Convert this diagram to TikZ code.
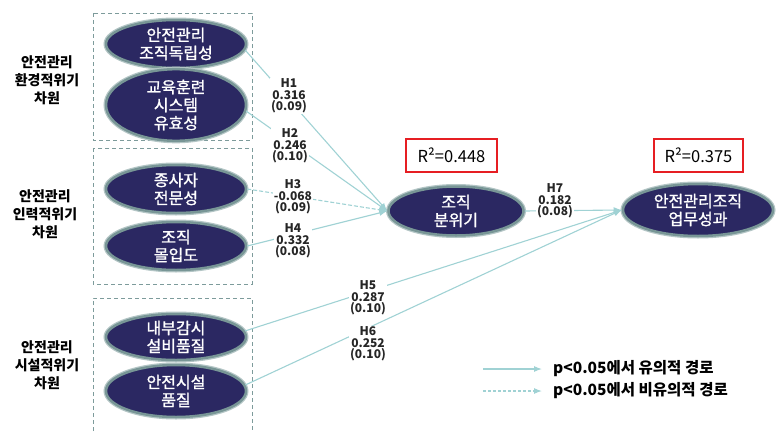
\documentclass[tikz,border=0pt]{standalone}
\usepackage{fontspec}
\setmainfont{Noto Sans CJK KR}
\newfontfamily\medfont{Noto Sans CJK KR}[FakeBold=1.2]
\usetikzlibrary{shapes.geometric,arrows.meta}
\definecolor{navy}{RGB}{43,40,98}
\definecolor{rim}{RGB}{120,150,150}
\definecolor{rimlight}{RGB}{180,198,198}
\definecolor{edgec}{RGB}{160,210,212}
\definecolor{boxc}{RGB}{125,155,155}
\definecolor{redc}{RGB}{230,30,35}
\begin{document}
\begin{tikzpicture}[x=1pt,y=-1pt,
 latent/.style={ellipse, fill=navy, draw=rim, line width=2.5pt,
   preaction={draw=rimlight, line width=5pt},
   text=white, align=center, font=\medfont\fontsize{16}{18}\selectfont, inner sep=0pt},
 grp/.style={draw=boxc, dash pattern=on 4pt off 3pt, line width=0.7pt},
 dimlab/.style={align=center, font=\bfseries\fontsize{14}{18}\selectfont},
 pathline/.style={draw=edgec, line width=1.1pt, -{Latex[length=8pt,width=6pt]}},
 est/.style={fill=white, align=center, inner sep=1pt, font=\bfseries\fontsize{12}{11.5}\selectfont, text=black!85},
 rsq/.style={draw=redc, line width=2pt, minimum height=33pt, inner sep=0pt, font=\fontsize{16.5}{16}\selectfont},
 legtxt/.style={anchor=west, inner sep=0pt, font=\bfseries\fontsize{15.5}{15}\selectfont}]

\useasboundingbox (0,0) rectangle (776,431);

% group boxes
\draw[grp] (93,13) rectangle (252,140);
\draw[grp] (93,148) rectangle (252,284);
\draw[grp] (93,445) -- (93,298) -- (252,298) -- (252,445);

% dimension labels
\node[dimlab] (d1) at (47,80) {안전관리\\환경적위기\\차원};
\node[dimlab] (d2) at (45,214) {안전관리\\인력적위기\\차원};
\node[dimlab] (d3) at (47,365) {안전관리\\시설적위기\\차원};

% latent variables
\node[latent, minimum width=140pt, minimum height=48pt] (e1) at (176,44) {안전관리\\조직독립성};
\node[latent, minimum width=140pt, minimum height=51pt] (e2) at (176,105) {교육훈련\\시스템\\유효성};
\node[latent, minimum width=140pt, minimum height=48pt] (e3) at (176,189) {종사자\\전문성};
\node[latent, minimum width=140pt, minimum height=48pt] (e4) at (176,246) {조직\\몰입도};
\node[latent, minimum width=140pt, minimum height=46pt] (e5) at (176,337) {내부감시\\설비품질};
\node[latent, minimum width=140pt, minimum height=52pt] (e6) at (176,391) {안전시설\\품질};
\node[latent, minimum width=135pt, minimum height=49pt] (clim) at (456,211) {조직\\분위기};
\node[latent, minimum width=150pt, minimum height=52pt] (perf) at (698,210) {안전관리조직\\업무성과};

% R squared boxes
\node[rsq, minimum width=91pt] (r1) at (451.5,155.5) {R²=0.448};
\node[rsq, minimum width=89pt] (r2) at (698.5,155.5) {R²=0.375};

% paths
\draw[pathline] (e1.-5) -- (clim.west);
\draw[pathline] (e2.-5) -- (clim.west);
\draw[pathline, dash pattern=on 4pt off 2pt] (e3.east) -- (clim.west);
\draw[pathline] (e4.east) -- (clim.west);
\draw[pathline] (e5.5) -- (perf.west);
\draw[pathline] (e6.5) -- (perf.west);
\draw[pathline] (clim.east) -- (perf.west);

% estimates
\node[est] (l1) at (289,96) {H1\\0.316\\(0.09)};
\node[est] (l2) at (290,146) {H2\\0.246\\(0.10)};
\node[est] (l3) at (293,197) {H3\\-0.068\\(0.09)};
\node[est] (l4) at (293,241) {H4\\0.332\\(0.08)};
\node[est] (l5) at (368,298) {H5\\0.287\\(0.10)};
\node[est] (l6) at (368,344) {H6\\0.252\\(0.10)};
\node[est] (l7) at (555,201) {H7\\0.182\\(0.08)};

% legend
\coordinate (la1) at (483,369);
\coordinate (la2) at (542,369);
\coordinate (lb1) at (483,391);
\coordinate (lb2) at (542,391);
\draw[pathline] (la1) -- (la2);
\draw[pathline, dash pattern=on 3pt off 2pt] (lb1) -- (lb2);
\node[legtxt] (lt1) at (553,369) {p<0.05에서 유의적 경로};
\node[legtxt] (lt2) at (553,391) {p<0.05에서 비유의적 경로};
\end{tikzpicture}
\end{document}
